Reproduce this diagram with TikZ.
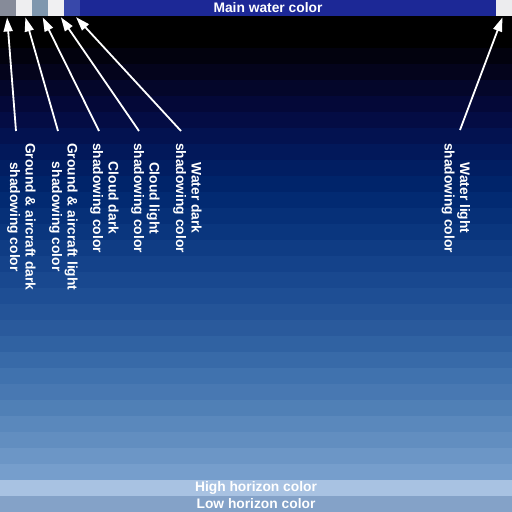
\documentclass[tikz,border=0pt]{standalone}
\usepackage{fontspec}
\setmainfont{Liberation Sans}
\usetikzlibrary{arrows.meta}
\definecolor{sqA}{RGB}{134,139,153}
\definecolor{sqB}{RGB}{238,238,240}
\definecolor{sqC}{RGB}{127,151,174}
\definecolor{sqD}{RGB}{240,240,242}
\definecolor{sqE}{RGB}{56,72,170}
\definecolor{mainblue}{RGB}{28,40,150}
\definecolor{sqF}{RGB}{236,236,238}
\definecolor{hihor}{RGB}{168,194,226}
\definecolor{lohor}{RGB}{132,162,200}
\begin{document}
\begin{tikzpicture}[x=1pt,y=-1pt,
  sq/.style={draw=none,inner sep=0,outer sep=0,minimum width=16pt,minimum height=16pt},
  txt/.style={text=white,font=\fontsize{13.8}{15.5}\selectfont\bfseries},
  lbl/.style={txt,align=center,inner sep=0,rotate=-90,anchor=west},
  ptr/.style={draw=white,line width=1.8pt,-{Triangle[length=14pt,width=9pt]},shorten >=1.5pt}]
\useasboundingbox (0,0) rectangle (512,512);
\fill[black] (0,0) rectangle (512,512);
\foreach \i/\r/\g/\b in {0/0/0/0,1/0/0/0,2/2/2/14,3/4/4/28,4/4/6/42,5/4/8/56,6/4/12/68,7/3/18/80,
  8/2/24/90,9/1/30/98,10/0/36/106,11/2/42/114,12/6/48/120,13/10/54/126,14/15/60/132,15/20/66/138,
  16/25/72/143,17/30/78/148,18/36/84/152,19/42/90/156,20/48/98/162,21/56/106/168,22/64/114/174,
  23/72/120/178,24/80/128/182,25/90/136/188,26/98/142/192,27/108/150/198,28/118/158/204}{
  \definecolor{bandc}{RGB}{\r,\g,\b}
  \fill[bandc] (0,{16+16*\i}) rectangle (512,{32+16*\i});
}
% top swatches
\node[sq,fill=sqA] (s1) at (8,8) {};
\node[sq,fill=sqB] (s2) at (24,8) {};
\node[sq,fill=sqC] (s3) at (40,8) {};
\node[sq,fill=sqD] (s4) at (56,8) {};
\node[sq,fill=sqE] (s5) at (72,8) {};
\node[sq,fill=mainblue,minimum width=416pt] (main) at (288,8) {};
\node[txt,inner sep=0] (mt) at (268,8) {Main water color};
\node[sq,fill=sqF] (s6) at (504,8) {};
% horizon bands
\node[sq,txt,fill=hihor,minimum width=512pt] (hh) at (256,488) {High horizon color};
\node[sq,txt,fill=lohor,minimum width=512pt] (lh) at (256,504) {Low horizon color};
% labels
\node[lbl] (l1) at (21.5,143) {Ground \& aircraft dark\\shadowing color};
\node[lbl] (l2) at (63.5,143) {Ground \& aircraft light\\shadowing color};
\node[lbl] (l3) at (104.5,143) {Cloud dark\\shadowing color};
\node[lbl] (l4) at (145.5,143) {Cloud light\\shadowing color};
\node[lbl] (l5) at (187.5,143) {Water dark\\shadowing color};
\node[lbl] (l6) at (456,143) {Water light\\shadowing color};
% arrow tails
\coordinate (t1) at (16,131);
\coordinate (t2) at (58,131);
\coordinate (t3) at (99,131);
\coordinate (t4) at (139,131);
\coordinate (t5) at (181,131);
\coordinate (t6) at (460,130);
\draw[ptr] (t1) -- ([xshift=-1pt]s1.south);
\draw[ptr] (t2) -- ([xshift=1pt]s2.south);
\draw[ptr] (t3) -- ([xshift=2pt]s3.south);
\draw[ptr] (t4) -- ([xshift=4pt]s4.south);
\draw[ptr] (t5) -- ([xshift=3pt]s5.south);
\draw[ptr] (t6) -- ([xshift=-1pt]s6.south);
\end{tikzpicture}
\end{document}
